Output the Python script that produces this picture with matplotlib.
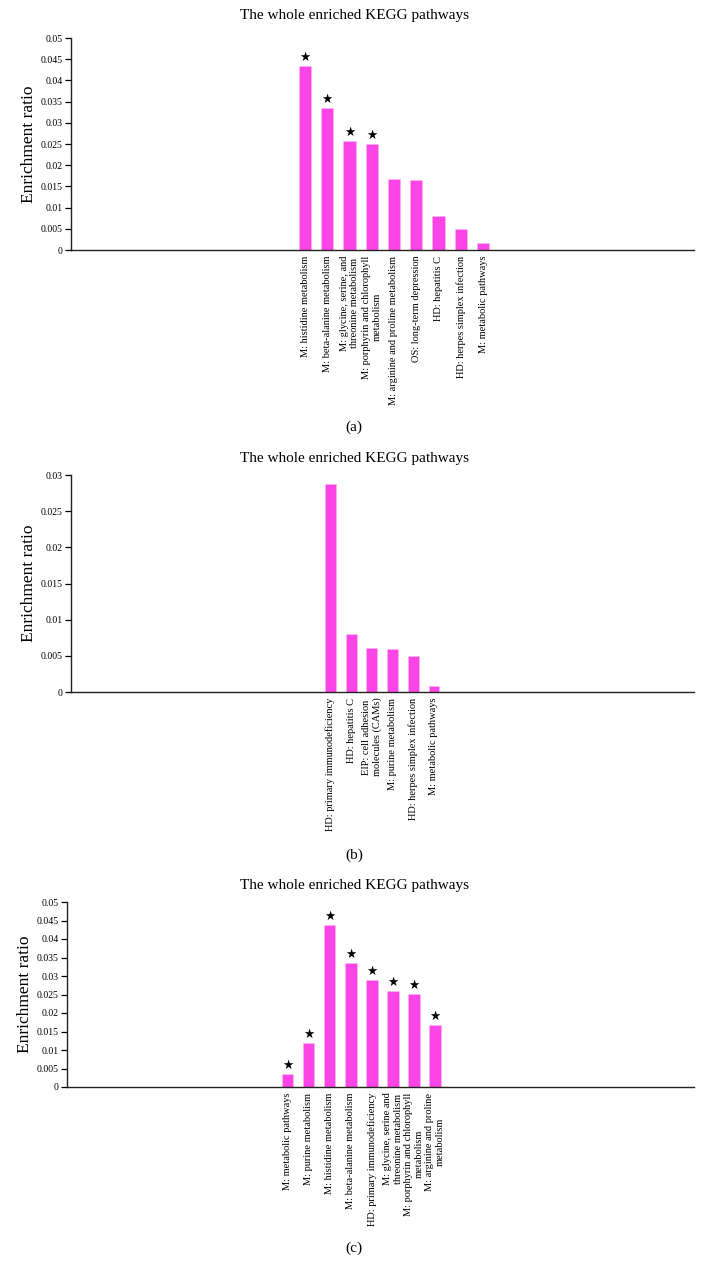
import matplotlib
matplotlib.use('Agg')
import matplotlib.pyplot as plt
import numpy as np

plt.rcParams['font.family'] = ['Liberation Serif', 'DejaVu Serif']

BAR_COLOR = '#ff45e6'
TITLE = 'The whole enriched KEGG pathways'

# (a)
labels_a = ['M: histidine metabolism', 'M: beta-alanine metabolism',
            'M: glycine, serine, and\nthreonine metabolism',
            'M: porphyrin and chlorophyll\nmetabolism',
            'M: arginine and proline metabolism', 'OS: long-term depression',
            'HD: hepatitis C', 'HD: herpes simplex infection', 'M: metabolic pathways']
vals_a = [0.0435, 0.0335, 0.0257, 0.0251, 0.0167, 0.0165, 0.0081, 0.0050, 0.0017]
star_a = [1, 1, 1, 1, 0, 0, 0, 0, 0]

# (b)
labels_b = ['HD: primary immunodeficiency', 'HD: hepatitis C',
            'EIP: cell adhesion\nmolecules (CAMs)', 'M: purine metabolism',
            'HD: herpes simplex infection', 'M: metabolic pathways']
vals_b = [0.0287, 0.0080, 0.0061, 0.0059, 0.0050, 0.0008]
star_b = [0, 0, 0, 0, 0, 0]

# (c)
labels_c = ['M: metabolic pathways', 'M: purine metabolism', 'M: histidine metabolism',
            'M: beta-alanine metabolism', 'HD: primary immunodeficiency',
            'M: glycine, serine and\nthreonine metabolism',
            'M: porphyrin and chlorophyll\nmetabolism',
            'M: arginine and proline\nmetabolism']
vals_c = [0.0034, 0.0119, 0.0437, 0.0336, 0.0288, 0.0259, 0.0252, 0.0168]
star_c = [1, 1, 1, 1, 1, 1, 1, 1]

W, H = 708, 1283
fig = plt.figure(figsize=(W / 100, H / 100), dpi=100)


def px_axes(l, r, top, bot):
    return fig.add_axes([l / W, 1 - bot / H, (r - l) / W, (bot - top) / H])


def panel(ax, labels, vals, stars, ymax, ystep, xlim, width, cap, cap_y, title_y):
    x = np.arange(len(vals))
    ax.bar(x, vals, width=width, color=BAR_COLOR, edgecolor='#ffb3f2', linewidth=0.4)
    for xi, v, s in zip(x, vals, stars):
        if s:
            ax.annotate('★', (xi, v), xytext=(0, 1.5), textcoords='offset points',
                        ha='center', va='bottom', fontsize=9, family='DejaVu Sans')
    ax.set_xlim(*xlim)
    ax.set_ylim(0, ymax)
    ticks = np.round(np.arange(0, ymax + ystep / 2, ystep), 4)
    ax.set_yticks(ticks)
    ax.set_yticklabels([f'{t:g}' for t in ticks], fontsize=7)
    ax.set_xticks(x)
    ax.set_xticklabels(labels, rotation=90, fontsize=7.5, multialignment='center')
    ax.tick_params(axis='x', length=0, pad=4)
    ax.tick_params(axis='y', length=4, width=0.9, pad=2)
    for s in ['top', 'right']:
        ax.spines[s].set_visible(False)
    for s in ['left', 'bottom']:
        ax.spines[s].set_color('#222222')
        ax.spines[s].set_linewidth(1.0)
    ax.set_ylabel('Enrichment ratio', fontsize=12.5)
    ax.yaxis.set_label_coords(-0.055, 0.5)
    fig.text(0.5, 1 - title_y / H, TITLE, ha='center', va='center', fontsize=11)
    fig.text(0.5, 1 - cap_y / H, cap, ha='center', va='center', fontsize=11)


ax_a = px_axes(71, 694, 38, 250)
panel(ax_a, labels_a, vals_a, star_a, 0.05, 0.005, (-(305 - 71) / 22.25, (694 - 305) / 22.25),
      0.54, '(a)', 427, 16)

ax_b = px_axes(71, 694, 475, 692)
panel(ax_b, labels_b, vals_b, star_b, 0.03, 0.005, (-(330.5 - 71) / 20.7, (694 - 330.5) / 20.7),
      0.53, '(b)', 855, 459)

ax_c = px_axes(67, 694, 902, 1087)
panel(ax_c, labels_c, vals_c, star_c, 0.05, 0.005, (-(287.5 - 67) / 21.07, (694 - 287.5) / 21.07),
      0.55, '(c)', 1248, 886)

plt.savefig('out.png', dpi=100, facecolor='white')
plt.close()
